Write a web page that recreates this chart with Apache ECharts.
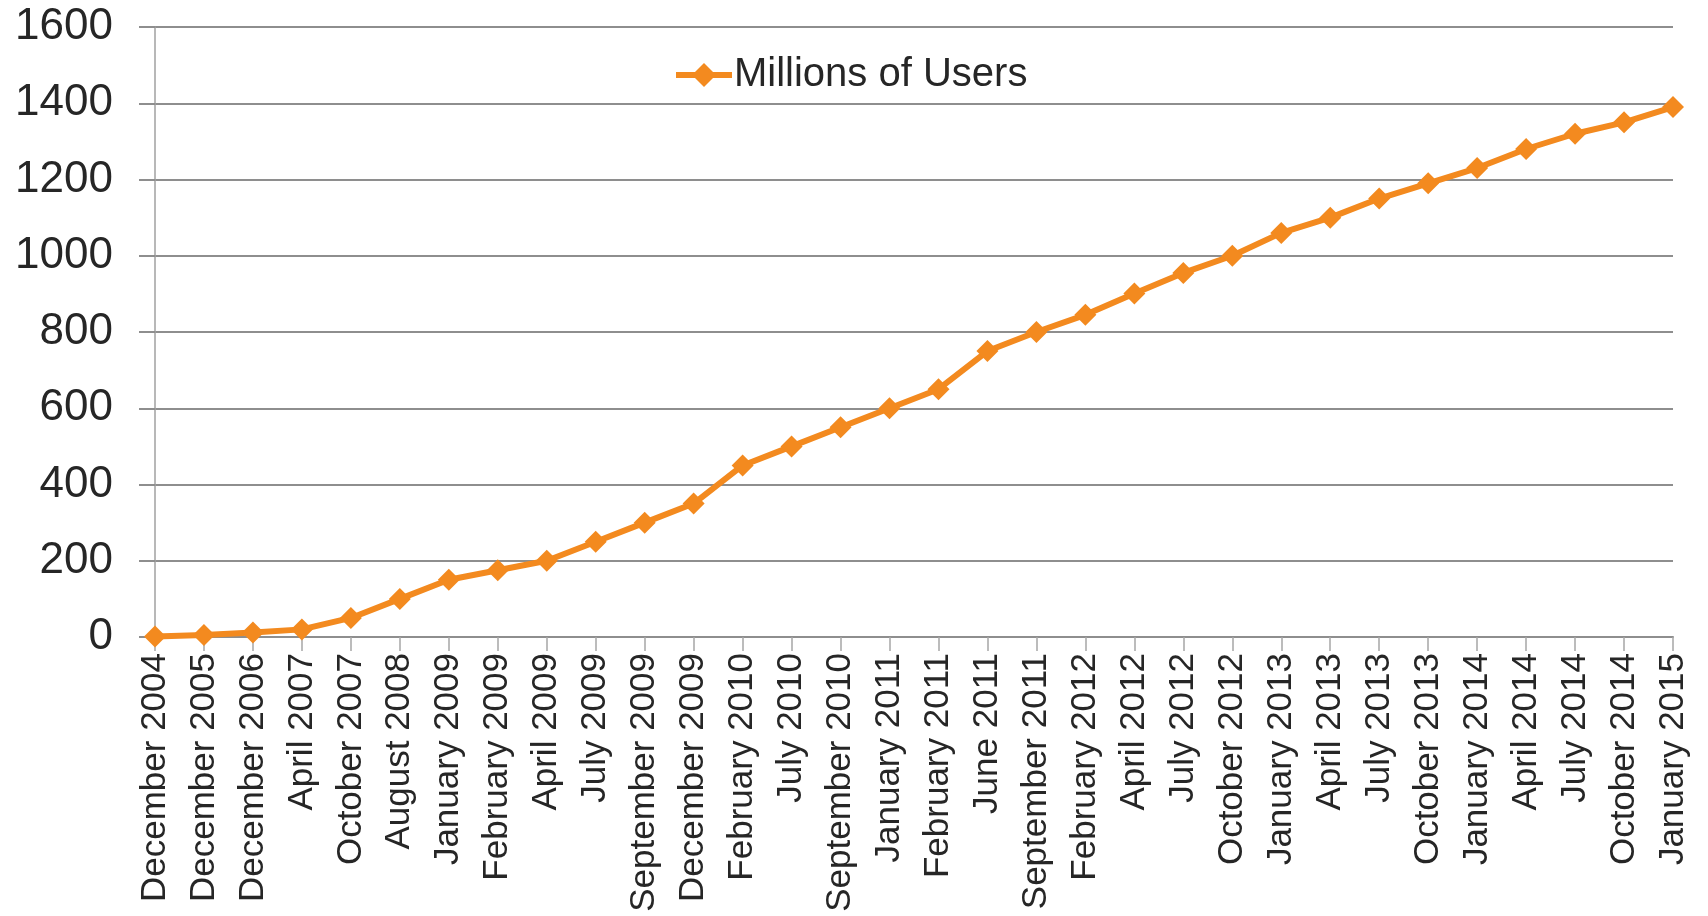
<!DOCTYPE html>
<html>
<head>
<meta charset="utf-8">
<script src="https://cdn.jsdelivr.net/npm/echarts@6/dist/echarts.min.js"></script>
<style>
html,body{margin:0;padding:0;background:#fff;}
#chart{width:1708px;height:916px;}
</style>
</head>
<body>
<div id="chart"></div>
<script>
const categories = [
  'December 2004','December 2005','December 2006','April 2007','October 2007','August 2008',
  'January 2009','February 2009','April 2009','July 2009','September 2009','December 2009',
  'February 2010','July 2010','September 2010','January 2011','February 2011','June 2011',
  'September 2011','February 2012','April 2012','July 2012','October 2012','January 2013',
  'April 2013','July 2013','October 2013','January 2014','April 2014','July 2014',
  'October 2014','January 2015'
];
const users = [
  1, 5.5, 12, 20, 50, 100,
  150, 175, 200, 250, 300, 350,
  450, 500, 550, 600, 650, 750,
  800, 845, 901, 955, 1000, 1060,
  1100, 1150, 1190, 1230, 1280, 1320,
  1350, 1390
];
const seriesName = 'Millions of Users';

const FONT = '"Liberation Sans", Arial, sans-serif';
const TEXT = '#262626';
const GRID = '#8e8e8e';
const ORANGE = '#F38A1F';

const chart = echarts.init(document.getElementById('chart'), null, {renderer:'canvas'});
chart.setOption({
  animation: false,
  backgroundColor: '#ffffff',
  textStyle: {fontFamily: FONT},
  legend: {
    show: true,
    left: 668,
    top: 50,
    itemWidth: 56,
    itemHeight: 30,
    itemGap: 10,
    lineStyle: {width: 6},
    textStyle: {fontFamily: FONT, fontSize: 40, color: TEXT, padding:[0,0,0,-3]},
    data: [seriesName]
  },
  grid: {left: 155, right: 35, top: 27, bottom: 279, containLabel: false},
  xAxis: {
    type: 'category',
    data: categories,
    boundaryGap: false,
    axisLine: {show: true, lineStyle: {color: GRID, width: 2}},
    axisTick: {show: true, length: 14, alignWithLabel: true, lineStyle: {color: '#a6a6a6', width: 1.5}},
    axisLabel: {interval: 0, rotate: 90, margin: 16, fontSize: 35, color: TEXT, fontFamily: FONT},
    splitLine: {show: false}
  },
  yAxis: {
    type: 'value',
    min: 0, max: 1600, interval: 200,
    axisLine: {show: true, lineStyle: {color: '#a0a0a0', width: 1.5}},
    axisTick: {show: true, length: 16, lineStyle: {color: GRID, width: 2}},
    axisLabel: {margin: 42, fontSize: 44, color: TEXT, fontFamily: FONT, formatter: function (v) { return String(v); }},
    splitLine: {show: true, lineStyle: {color: GRID, width: 2}}
  },
  series: [{
    name: seriesName,
    type: 'line',
    data: users,
    symbol: 'diamond',
    symbolSize: 22,
    showSymbol: true,
    lineStyle: {color: ORANGE, width: 6},
    itemStyle: {color: ORANGE},
    z: 5
  }]
});
</script>
</body>
</html>
